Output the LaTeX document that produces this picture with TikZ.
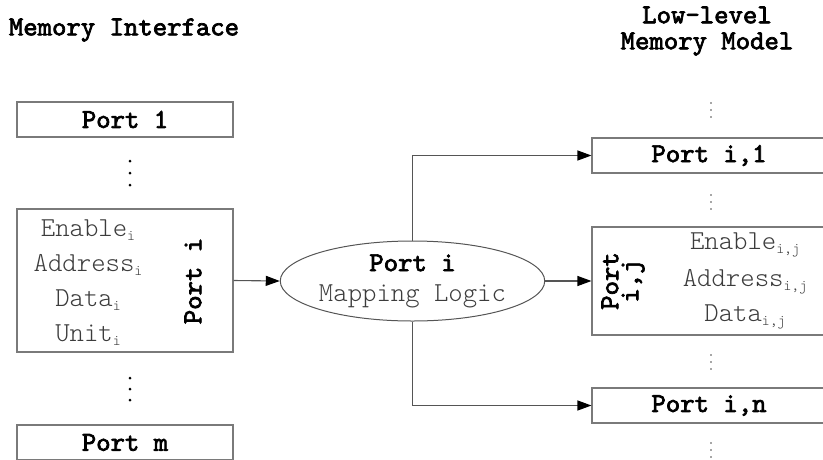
\documentclass[tikz,border=0pt]{standalone}
\usepackage{fontspec}
\usetikzlibrary{arrows.meta,shapes.geometric}
% typewriter faces: a heavy one for labels, a light one for signal names
\newfontfamily\heavytt{lmmono10-regular.otf}[FakeBold=2.6]
\newfontfamily\lighttt{lmmonolt10-regular.otf}
\definecolor{framegray}{HTML}{7A7A7A}
\definecolor{linegray}{HTML}{555555}
\definecolor{textgray}{HTML}{3C3C3C}
\newcommand\boldtt{\fontsize{27.4}{26}\heavytt}
\newcommand\plaintt{\fontsize{27.4}{26}\lighttt}
% small lowered index used by the signal names
\newcommand\sigidx[1]{\raisebox{-4pt}{\fontsize{15}{15}\lighttt #1}}

\begin{document}
\begin{tikzpicture}[x=1pt,y=-1pt,
  font=\boldtt,
  portbox/.style={draw=framegray, line width=1.1pt, inner sep=0pt,
    minimum width=216pt, minimum height=35pt, font=\boldtt},
  farbox/.style={portbox, minimum width=234pt},
  heading/.style={font=\boldtt, align=center, inner sep=0pt},
  signal/.style={text=textgray, inner sep=0pt, font=\plaintt},
  conn/.style={draw=linegray, line width=1.1pt, -{Triangle[length=14pt,width=10pt,color=black]}},
  bigdot/.style={fill=black, draw=none, circle, minimum size=3pt, inner sep=0pt},
  smalldot/.style={fill=black!70, draw=none, circle, minimum size=1.6pt, inner sep=0pt}
]
\useasboundingbox (0,0) rectangle (823,459);
\clip (0,0) rectangle (823,459);

% column headings
\node[heading] (hleft) at (124,30) {Memory Interface};
\node[heading] (hright) at (707,31) {Low-level\\Memory Model};

% memory interface ports
\node[portbox] (p1) at (125,119.5) {Port 1};
\node[portbox, minimum height=143pt] (pi) at (125,280.5) {};
\node[portbox] (pm) at (125,442.5) {Port m};

\node[signal] (ien) at (88,230) {Enable\sigidx{i}};
\node[signal] (iad) at (88,265) {Address\sigidx{i}};
\node[signal] (ida) at (88,300) {Data\sigidx{i}};
\node[signal] (iun) at (88,335) {Unit\sigidx{i}};
\node[heading, rotate=90] (pilabel) at (193,281) {Port i};

\foreach \yy [count=\k] in {161,173,185} \node[bigdot] (ldotA\k) at (130,\yy) {};
\foreach \yy [count=\k] in {378,389,400} \node[bigdot] (ldotB\k) at (130,\yy) {};

% mapping logic
\node[ellipse, draw=linegray, line width=1pt, minimum width=251pt, minimum height=80pt,
  inner sep=0pt, align=center, font=\fontsize{27.4}{30}\selectfont] (map) at (412.5,281)
  {{\heavytt Port i}\\{\color{textgray}\lighttt Mapping Logic}};

% low-level memory model ports
\node[farbox] (pi1) at (709,155.5) {Port i,1};
\node[farbox, minimum height=108pt] (pij) at (709,281) {};
\node[farbox] (pin) at (709,405.5) {Port i,n};

\node[heading, rotate=90, font=\fontsize{27.4}{20}\heavytt] (pijlabel) at (623,281) {Port\\i,j};
\node[signal] (jen) at (745,245) {Enable\sigidx{i,j}};
\node[signal] (jad) at (745,282) {Address\sigidx{i,j}};
\node[signal] (jda) at (745,317) {Data\sigidx{i,j}};

\foreach \yy [count=\k] in {103,110,117} \node[smalldot] (rdotA\k) at (711,\yy) {};
\foreach \yy [count=\k] in {195,202,209} \node[smalldot] (rdotB\k) at (711,\yy) {};
\foreach \yy [count=\k] in {355,362,369} \node[smalldot] (rdotC\k) at (711,\yy) {};
\foreach \yy [count=\k] in {443,450,457} \node[smalldot] (rdotD\k) at (711,\yy) {};

% connectors
\draw[conn] (pi.east) -- (map.west);
\draw[conn] (map.east) -- (pij.west);
\draw[conn] (map.north) |- (pi1.west);
\draw[conn] (map.south) |- (pin.west);
\end{tikzpicture}
\end{document}
